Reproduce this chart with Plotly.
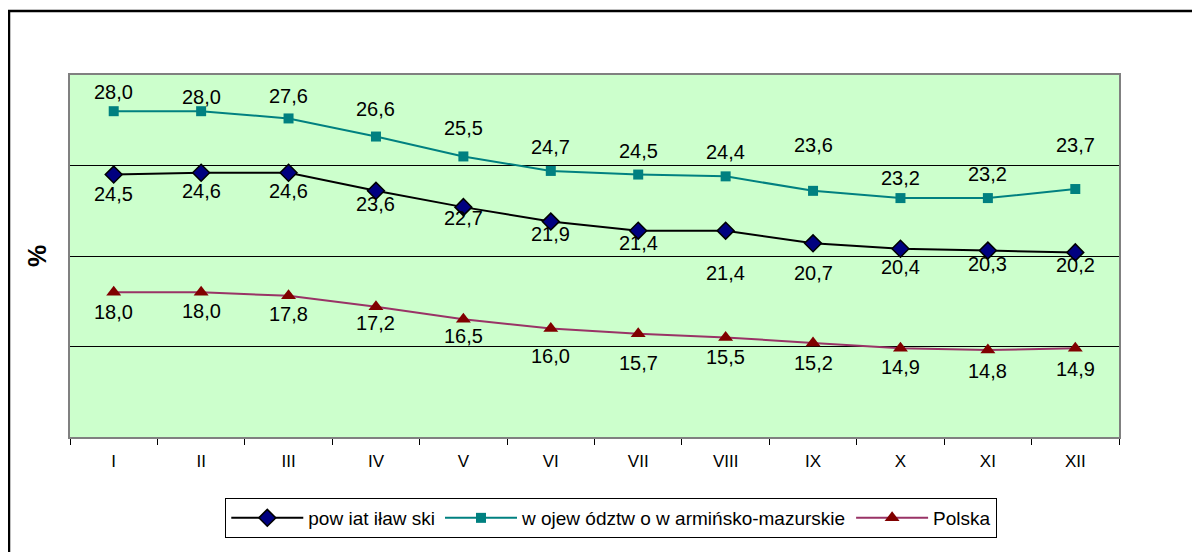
import plotly.graph_objects as go

months = ["I", "II", "III", "IV", "V", "VI", "VII", "VIII", "IX", "X", "XI", "XII"]
powiat = [24.5, 24.6, 24.6, 23.6, 22.7, 21.9, 21.4, 21.4, 20.7, 20.4, 20.3, 20.2]
wojew = [28.0, 28.0, 27.6, 26.6, 25.5, 24.7, 24.5, 24.4, 23.6, 23.2, 23.2, 23.7]
polska = [18.0, 18.0, 17.8, 17.2, 16.5, 16.0, 15.7, 15.5, 15.2, 14.9, 14.8, 14.9]

names = ["pow iat iław ski", "w ojew ództw o w armińsko-mazurskie", "Polska"]

# label pixel offsets (style only)
off_powiat = [-19, -18, -18, -13, -11, -12, -12, -42, -30, -18, -13, -13]
off_wojew = [19, 14, 22, 28, 28, 24, 24, 24, 46, 20, 24, 44]
off_polska = [-20, -19, -18, -16, -17, -28, -29, -20, -20, -19, -21, -21]

FONT = "Liberation Sans, Arial, sans-serif"

# page body has an 8px margin; figure is sized/placed to compensate
W, H = 1192, 544
L, R, T, B = 62, 81, 67, 115
PW = W - L - R
PH = H - T - B

fig = go.Figure()
fig.add_trace(go.Scatter(
    x=months, y=powiat, name=names[0], mode="lines+markers",
    line=dict(color="#000000", width=2),
    marker=dict(symbol="diamond", size=13, color="#000080", line=dict(color="#000000", width=1.5)),
))
fig.add_trace(go.Scatter(
    x=months, y=wojew, name=names[1], mode="lines+markers",
    line=dict(color="#008080", width=2),
    marker=dict(symbol="square", size=10, color="#008080", line=dict(width=0)),
))
fig.add_trace(go.Scatter(
    x=months, y=polska, name=names[2], mode="lines+markers",
    line=dict(color="#993366", width=2),
    marker=dict(symbol="triangle-up", size=13, color="#800000", line=dict(width=0)),
))

def fmt(v):
    return f"{v:.1f}".replace(".", ",")

annotations = []
for series, offs in ((powiat, off_powiat), (wojew, off_wojew), (polska, off_polska)):
    for m, v, o in zip(months, series, offs):
        annotations.append(dict(
            x=m, y=v, xref="x", yref="y", text=fmt(v), showarrow=False,
            yshift=o, font=dict(family=FONT, size=20, color="#000000"),
        ))

annotations.append(dict(
    x=(29 - L) / PW, y=0.5, xref="paper", yref="paper", text="<b>%</b>",
    xanchor="center", yanchor="middle",
    showarrow=False, textangle=-90, font=dict(family=FONT, size=25, color="#000000"),
))

fig.update_layout(
    width=W, height=H,
    margin=dict(l=L, r=R, t=T, b=B),
    paper_bgcolor="#FFFFFF",
    plot_bgcolor="#CCFFCC",
    showlegend=True,
    legend=dict(
        orientation="h", x=0.516, xanchor="center", y=-61 / PH, yanchor="top",
        bordercolor="#000000", borderwidth=1, bgcolor="#FFFFFF",
        font=dict(family=FONT, size=19, color="#000000"),
        itemwidth=72, tracegroupgap=0,
    ),
    annotations=annotations,
    shapes=[dict(
        type="rect", xref="paper", yref="paper",
        x0=(1 - L) / PW, x1=1.2, y0=-0.6, y1=(PH + T - 3) / PH,
        line=dict(color="#000000", width=2.5), fillcolor="rgba(0,0,0,0)", layer="below",
    )],
    xaxis=dict(
        type="category", showgrid=False, showline=True, linecolor="#808080", linewidth=2,
        mirror=True, ticks="outside", tickson="boundaries", ticklen=6, tickcolor="#000000",
        tickfont=dict(family=FONT, size=17, color="#000000"), zeroline=False,
        range=[-0.5, 11.5], ticklabelstandoff=8,
    ),
    yaxis=dict(
        range=[10, 30], dtick=5, showgrid=True, gridcolor="#000000", gridwidth=1,
        showticklabels=False, ticks="", showline=True, linecolor="#808080", linewidth=2,
        mirror=True, zeroline=False,
    ),
)

fig.write_html("out.html")
